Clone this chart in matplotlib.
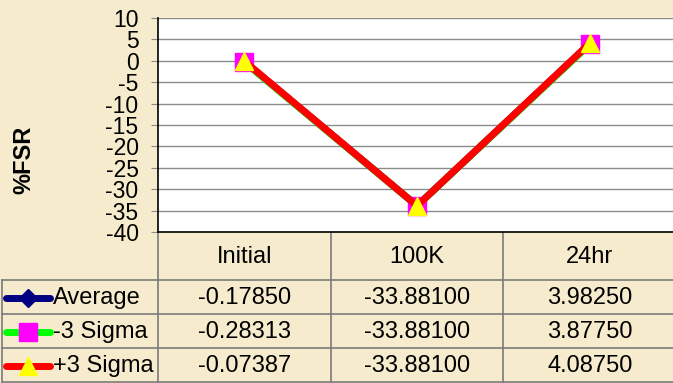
import matplotlib
import matplotlib.pyplot as plt
import numpy as np

matplotlib.use('agg')
plt.rcParams['font.family'] = ['Liberation Sans', 'DejaVu Sans']

stages = ["Initial", "100K", "24hr"]
series_names = ["Average", "-3 Sigma", "+3 Sigma"]
average = [-0.17850, -33.88100, 3.98250]
minus_3sigma = [-0.28313, -33.88100, 3.87750]
plus_3sigma = [-0.07387, -33.88100, 4.08750]
y_ticks = list(range(-40, 11, 5))

W, H = 673, 383
paper = "#F6ECCD"
grid_col = "#8C8C8C"

fig = plt.figure(figsize=(W / 100, H / 100), dpi=100, facecolor=paper)

# full-figure overlay in pixel units for the data table
tab = fig.add_axes([0, 0, 1, 1], zorder=0)
tab.set_xlim(0, W)
tab.set_ylim(H, 0)
tab.axis("off")

# plot area
left, top, bottom = 158, 18, 232
col_w = 172.7
ax = fig.add_axes([left / W, 1 - bottom / H, 3 * col_w / W, (bottom - top) / H], zorder=1)
ax.set_facecolor("white")
ax.set_xlim(-0.5, 2.5)
ax.set_ylim(-40, 10)
ax.set_yticks(y_ticks)
ax.set_yticklabels([str(t) for t in y_ticks])
ax.set_xticks([])
ax.yaxis.grid(True, color=grid_col, lw=1)
ax.set_axisbelow(True)
for s in ["top", "right"]:
    ax.spines[s].set_visible(False)
ax.spines["left"].set_color("black")
ax.spines["bottom"].set_color("black")
ax.spines["left"].set_linewidth(1.2)
ax.spines["bottom"].set_linewidth(1.2)
ax.tick_params(axis="y", length=5, color=grid_col, labelsize=16.5, pad=9)
tab.text(24, 160, "%FSR", rotation=90, ha="center", va="center",
         fontsize=17, fontweight="bold")

x = np.arange(len(stages))
styles = [
    dict(color="#000080", marker="D", mfc="#000080", mec="#000080", ms=7),
    dict(color="#00FF00", marker="s", mfc="#FF00FF", mec="#FF00FF", ms=13.5),
    dict(color="#FF0000", marker="^", mfc="#FFFF00", mec="#FFFF00", ms=13.5),
]
for vals, st in zip([average, minus_3sigma, plus_3sigma], styles):
    ax.plot(x, vals, lw=5, clip_on=False, **st)

# table grid
col_x = [left + i * col_w for i in range(4)]
row_y = [bottom, 280, 314, 348, 382]
line_kw = dict(color="#7A7A7A", lw=1.2)
for y in row_y[1:]:
    tab.plot([2, W], [y, y], **line_kw)
tab.plot([2, 2], [row_y[1], row_y[-1]], **line_kw)
for cx in col_x[:3]:
    tab.plot([cx, cx], [bottom, row_y[-1]], **line_kw)

fs = 17
for i, name in enumerate(stages):
    tab.text(col_x[i] + col_w / 2, (row_y[0] + row_y[1]) / 2 + 1, name,
             ha="center", va="center", fontsize=fs)

for r, (name, vals, st) in enumerate(zip(series_names, [average, minus_3sigma, plus_3sigma], styles)):
    yc = (row_y[r + 1] + row_y[r + 2]) / 2 + 1
    tab.plot([6, 50], [yc, yc], color=st["color"], lw=5, solid_capstyle="round")
    tab.plot([28], [yc], marker=st["marker"], mfc=st["mfc"], mec=st["mec"],
             ms=st["ms"] * (1.3 if r == 0 else 1.0), ls="none")
    tab.text(53, yc, name, ha="left", va="center", fontsize=fs)
    for i, v in enumerate(vals):
        tab.text(col_x[i] + col_w / 2, yc, f"{v:.5f}", ha="center", va="center", fontsize=fs)

fig.savefig("out.png", dpi=100, facecolor=paper)
